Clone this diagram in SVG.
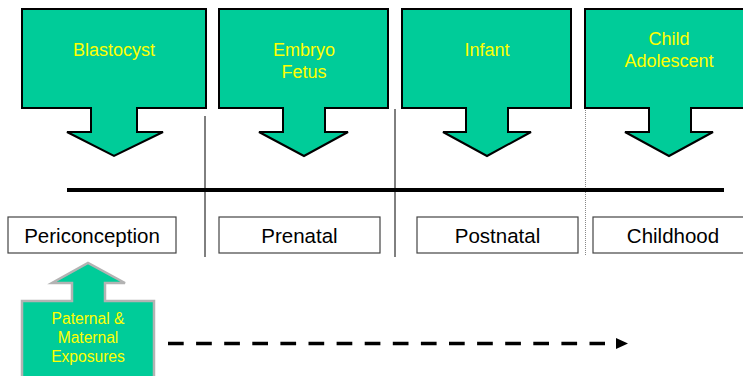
<svg xmlns="http://www.w3.org/2000/svg" width="743" height="376" viewBox="0 0 743 376">
  <style>
    .callout { fill: #00CC99; stroke: #000; stroke-width: 2; stroke-linejoin: miter; }
    .source { fill: #00CC99; stroke: #B3B3B3; stroke-width: 2.5; }
    .stage { fill: #fff; stroke: #444; stroke-width: 1.2; }
    .ctext { font-family: "Liberation Sans", Arial, sans-serif; font-size: 18px; fill: #FFFF00; text-anchor: middle; }
    .stext { font-family: "Liberation Sans", Arial, sans-serif; font-size: 20.5px; fill: #000; text-anchor: middle; }
    .etext { font-family: "Liberation Sans", Arial, sans-serif; font-size: 15.6px; fill: #FFFF00; text-anchor: middle; }
    .divider { stroke: #000; stroke-width: 1; }
  </style>
  <defs>
    <marker id="head" viewBox="0 0 12 11" refX="0" refY="5.5" markerWidth="12" markerHeight="11" markerUnits="userSpaceOnUse" orient="auto">
      <path d="M0,0 L12,5.5 L0,11 Z" fill="#000"/>
    </marker>
  </defs>

  <rect width="743" height="376" fill="#fff"/>

  <!-- timeline axis and period dividers -->
  <g id="timeline">
    <line class="divider" x1="205" y1="116" x2="205" y2="257"/>
    <line class="divider" x1="395" y1="109" x2="395" y2="257"/>
    <line x1="585.5" y1="108" x2="585.5" y2="256" stroke="#888" stroke-width="1" stroke-dasharray="1 1"/>
    <line x1="67" y1="190" x2="724" y2="190" stroke="#000" stroke-width="4"/>
  </g>

  <!-- developmental stages (down-pointing callouts) -->
  <g id="blastocyst">
    <path class="callout" d="M22,9 H206 V108 H137 V132 H163 L114,156 L67,132 H91 V108 H22 Z"/>
    <text class="ctext" x="114" y="56">Blastocyst</text>
  </g>
  <g id="embryo-fetus">
    <path class="callout" d="M219,9 H388 V108 H325 V132 H348 L304,156 L259,132 H283 V108 H219 Z"/>
    <text class="ctext" x="304" y="56">Embryo</text>
    <text class="ctext" x="304" y="78">Fetus</text>
  </g>
  <g id="infant">
    <path class="callout" d="M402,9 H571 V108 H508 V132 H531 L487,156 L443,132 H466 V108 H402 Z"/>
    <text class="ctext" x="487" y="56">Infant</text>
  </g>
  <g id="child-adolescent">
    <path class="callout" d="M585,9 H756 V108 H691 V132 H713 L669,156 L625,132 H649 V108 H585 Z"/>
    <text class="ctext" x="669" y="45">Child</text>
    <text class="ctext" x="669" y="67">Adolescent</text>
  </g>

  <!-- period labels -->
  <g id="periconception">
    <rect class="stage" x="8" y="217" width="168" height="36"/>
    <text class="stext" x="92" y="243">Periconception</text>
  </g>
  <g id="prenatal">
    <rect class="stage" x="219" y="217" width="161" height="36"/>
    <text class="stext" x="299.5" y="243">Prenatal</text>
  </g>
  <g id="postnatal">
    <rect class="stage" x="417" y="217" width="161" height="36"/>
    <text class="stext" x="497.5" y="243">Postnatal</text>
  </g>
  <g id="childhood">
    <rect class="stage" x="593" y="217" width="160" height="36"/>
    <text class="stext" x="673" y="243">Childhood</text>
  </g>

  <!-- parental exposures (up-pointing callout) -->
  <g id="exposures">
    <path class="source" d="M22,380 V301 H72 V283 H52 L88,263 L125,283 H105 V301 H154 V380 Z"/>
    <text class="etext" x="88" y="324">Paternal &amp;</text>
    <text class="etext" x="88" y="343">Maternal</text>
    <text class="etext" x="88" y="362">Exposures</text>
  </g>

  <!-- connectors -->
  <g id="connectors">
    <line x1="168" y1="343.5" x2="605" y2="343.5" stroke="#000" stroke-width="3.5" stroke-dasharray="15.7 12.4"/>
    <path d="M616,338 L628,343.5 L616,349 Z" fill="#000"/>
  </g>
</svg>
